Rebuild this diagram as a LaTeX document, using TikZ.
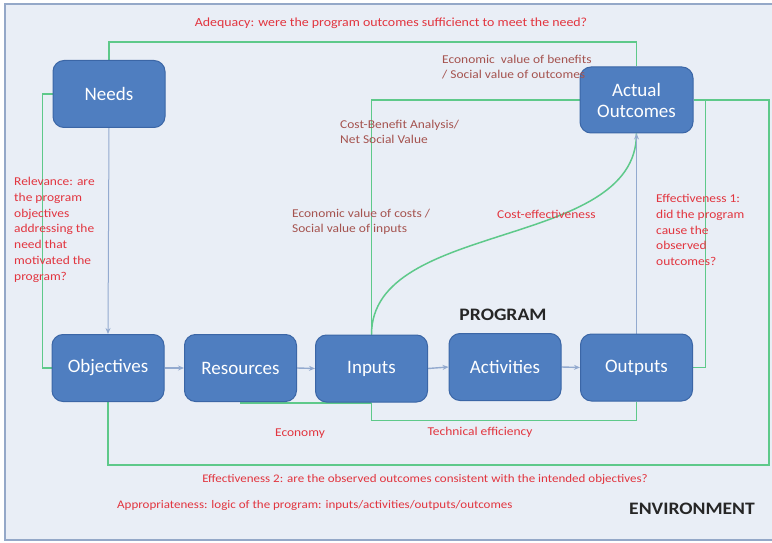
\documentclass[tikz,border=0pt]{standalone}
\usepackage{fontspec}
\setmainfont{Carlito}
\newfontfamily\lblfont[FakeStretch=1.12]{Carlito}
\usetikzlibrary{arrows.meta}
\definecolor{bg}{HTML}{E9EEF6}
\definecolor{boxfill}{HTML}{4F7EC0}
\definecolor{boxline}{HTML}{3B66A6}
\definecolor{grn}{HTML}{5EC98A}
\definecolor{arr}{HTML}{93AACF}
\definecolor{redt}{HTML}{E2353F}
\definecolor{maroont}{HTML}{A5534F}
\definecolor{framec}{HTML}{94A8C8}
\pgfdeclarelayer{back}
\pgfdeclarelayer{mid}
\pgfsetlayers{back,mid,main}
\begin{document}
\begin{tikzpicture}[x=1pt,y=-1pt,
  box/.style={draw=boxline, line width=1pt, fill=boxfill, rounded corners=11pt,
    text=white, font=\fontsize{19}{21}\selectfont, align=center,
    minimum width=112pt, minimum height=67pt, inner sep=0pt},
  gl/.style={draw=grn, line width=1.5pt},
  ar/.style={draw=arr, line width=1.4pt, -{Stealth[length=6pt,width=5pt]}},
  rt/.style={text=redt, font=\lblfont\fontsize{12}{15.8}\selectfont, inner sep=0pt, align=left},
  mt/.style={text=maroont, font=\lblfont\fontsize{12}{15}\selectfont, inner sep=0pt, align=left},
  bt/.style={text=black!85, font=\lblfont\bfseries\fontsize{17.5}{20}\selectfont, inner sep=0pt}]
\useasboundingbox (0,0) rectangle (772,543);
\begin{pgfonlayer}{back}
\fill[white] (0,0) rectangle (772,543);
\fill[bg] (5,4) rectangle (772,540);
\draw[framec, line width=2pt] (776,540) -- (5,540) -- (5,4) -- (776,4);
\end{pgfonlayer}

\node[box] (needs) at (109,94) {Needs};
\node[box, minimum width=113pt, minimum height=66pt] (ao) at (636.5,100) {Actual\\Outcomes};
\node[box] (obj) at (108,368) {Objectives};
\node[box] (res) at (240.5,368) {Resources};
\node[box] (inp) at (371.5,368.5) {Inputs};
\node[box] (act) at (505,367) {Activities};
\node[box] (out) at (636.5,367.5) {Outputs};
\coordinate (e2) at (769,465);

\begin{pgfonlayer}{mid}
\draw[gl] (needs.north) -- ++(0,-18) -| (ao.north);
\draw[gl] (needs.west) -- ++(-10,0) |- (obj.west);
\draw[gl] (inp.north) |- (ao.west);
\draw[gl] (inp.north) .. controls +(0,-115) and +(0,117) .. (ao.south);
\draw[gl] (ao.east) -- ++(12,0) |- (out.east);
\draw[gl] (ao.east) -| (e2) -| (obj.south);
\draw[gl] (res.south) -- ++(0,1) -| (inp.south);
\draw[gl] (inp.south) -- ++(0,18) -| (out.south);
\draw[ar, line width=1pt] (needs.south) -- (obj.north);
\draw[ar] (obj.east) -- (res.west);
\draw[ar] (res.east) -- (inp.west);
\draw[ar] (inp.east) -- (act.west);
\draw[ar] (act.east) -- (out.west);
\draw[ar, line width=1pt] (out.north) -- (ao.south);
\end{pgfonlayer}

\node[rt, font=\lblfont\fontsize{12.4}{15.8}\selectfont] (adeq) at (391,23) {Adequacy: were the program outcomes sufficienct to meet the need?};
\node[mt, anchor=north west] (evb) at (442,55) {Economic~ value of benefits\\/ Social value of outcomes};
\node[mt, anchor=north west] (cba) at (340,120) {Cost-Benefit Analysis/\\Net Social Value};
\node[mt, anchor=north west] (evc) at (292,209) {Economic value of costs /\\Social value of inputs};
\node[rt, anchor=north west] (rel) at (14,177) {Relevance: are\\the program\\objectives\\addressing the\\need that\\motivated the\\program?};
\node[rt, anchor=west] (ce) at (497,214) {Cost-effectiveness};
\node[rt, anchor=north west] (eff1) at (656,194) {Effectiveness 1:\\did the program\\cause the\\observed\\outcomes?};
\node[bt] (prog) at (503,315) {PROGRAM};
\node[rt] (eco) at (300,434) {Economy};
\node[rt] (tech) at (480,432) {Technical efficiency};
\node[rt, font=\lblfont\fontsize{11.6}{15.8}\selectfont] (eff2) at (425,479) {Effectiveness 2: are the observed outcomes consistent with the intended objectives?};
\node[rt, anchor=west, font=\lblfont\fontsize{11.6}{15.8}\selectfont] (appr) at (117,505) {Appropriateness: logic of the program: inputs/activities/outputs/outcomes};
\node[bt] (env) at (692,509) {ENVIRONMENT};
\end{tikzpicture}
\end{document}
